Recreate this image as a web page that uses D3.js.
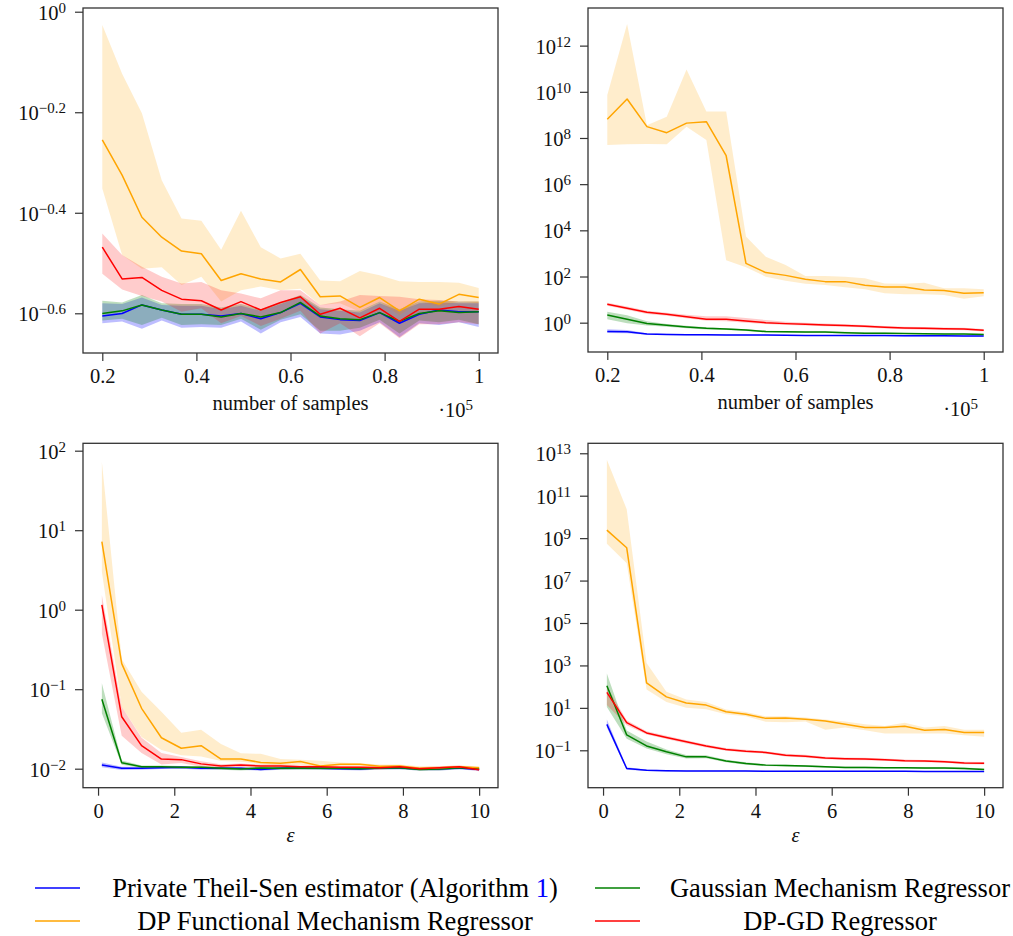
<!DOCTYPE html>
<html><head><meta charset="utf-8">
<script src="https://cdn.jsdelivr.net/npm/d3@7"></script>
<style>
body{margin:0;background:#fff}svg{display:block}
text{font-family:"Liberation Serif","Times New Roman",Times,"DejaVu Serif",serif;}
</style>
</head><body>
<svg id="c" width="1013" height="936"></svg>
<script>
// ---------- data ----------
const samples = [20000,24211,28421,32632,36842,41053,45263,49474,53684,57895,62105,66316,70526,74737,78947,83158,87368,91579,95789,100000];
const epsilons = [0.1,0.621,1.142,1.663,2.184,2.705,3.226,3.747,4.268,4.789,5.311,5.832,6.353,6.874,7.395,7.916,8.437,8.958,9.479,10.0];

const seriesNames = ["Private Theil-Sen estimator (Algorithm 1)","Gaussian Mechanism Regressor","DP Functional Mechanism Regressor","DP-GD Regressor"];
const seriesColors = ["#0000ff","#008000","#ffa500","#ff0000"];
const bandOpacity = [0.26,0.26,0.2,0.2];

// panel 1 (top left)
const p1_theilsen    = [0.248,0.251,0.261,0.255,0.250,0.250,0.248,0.251,0.245,0.252,0.263,0.247,0.244,0.243,0.252,0.240,0.250,0.255,0.253,0.253];
const p1_theilsen_hi = [0.263,0.262,0.270,0.261,0.260,0.260,0.256,0.260,0.254,0.262,0.271,0.256,0.254,0.252,0.263,0.254,0.263,0.264,0.263,0.263];
const p1_theilsen_lo = [0.240,0.242,0.234,0.243,0.235,0.236,0.235,0.242,0.229,0.241,0.247,0.229,0.228,0.232,0.241,0.225,0.240,0.238,0.241,0.236];
const p1_gauss       = [0.251,0.254,0.261,0.255,0.250,0.250,0.247,0.251,0.247,0.252,0.264,0.248,0.245,0.244,0.252,0.242,0.251,0.254,0.252,0.253];
const p1_gauss_hi    = [0.266,0.264,0.273,0.263,0.262,0.262,0.258,0.262,0.256,0.264,0.273,0.258,0.256,0.254,0.265,0.256,0.265,0.266,0.265,0.265];
const p1_gauss_lo    = [0.243,0.245,0.238,0.246,0.238,0.239,0.238,0.245,0.233,0.244,0.250,0.232,0.232,0.235,0.244,0.229,0.243,0.241,0.244,0.239];
const p1_func        = [0.556,0.473,0.390,0.356,0.334,0.330,0.292,0.301,0.294,0.290,0.307,0.271,0.272,0.258,0.270,0.254,0.268,0.262,0.274,0.270];
const p1_func_hi     = [0.941,0.753,0.628,0.462,0.388,0.384,0.336,0.402,0.340,0.323,0.330,0.292,0.291,0.305,0.299,0.291,0.290,0.290,0.289,0.282];
const p1_func_lo     = [0.445,0.328,0.308,0.310,0.286,0.297,0.265,0.279,0.284,0.279,0.281,0.261,0.263,0.253,0.265,0.249,0.265,0.259,0.265,0.263];
const p1_dpgd        = [0.340,0.294,0.296,0.279,0.268,0.266,0.255,0.265,0.255,0.264,0.271,0.250,0.257,0.246,0.257,0.242,0.256,0.256,0.259,0.256];
const p1_dpgd_hi     = [0.362,0.328,0.311,0.297,0.288,0.290,0.279,0.275,0.269,0.279,0.279,0.261,0.265,0.273,0.272,0.271,0.268,0.267,0.265,0.265];
const p1_dpgd_lo     = [0.301,0.280,0.272,0.265,0.253,0.257,0.240,0.248,0.237,0.245,0.254,0.229,0.240,0.226,0.240,0.224,0.239,0.239,0.241,0.239];

// panel 2 (top right)
const p2_theilsen    = [0.42,0.40,0.32,0.31,0.30,0.30,0.295,0.29,0.29,0.285,0.28,0.28,0.28,0.275,0.275,0.27,0.27,0.27,0.265,0.265];
const p2_theilsen_hi = [0.52,0.48,0.35,0.33,0.32,0.32,0.31,0.305,0.30,0.30,0.295,0.295,0.29,0.29,0.29,0.285,0.285,0.285,0.28,0.28];
const p2_theilsen_lo = [0.36,0.35,0.30,0.29,0.285,0.28,0.28,0.275,0.275,0.27,0.265,0.265,0.265,0.26,0.26,0.255,0.255,0.255,0.25,0.25];
const p2_gauss       = [2.15,1.40,0.93,0.77,0.65,0.57,0.53,0.48,0.41,0.40,0.39,0.39,0.37,0.35,0.35,0.34,0.33,0.32,0.32,0.31];
const p2_gauss_hi    = [3.0,2.1,1.15,0.88,0.73,0.63,0.58,0.52,0.45,0.44,0.42,0.42,0.40,0.38,0.38,0.36,0.35,0.34,0.34,0.33];
const p2_gauss_lo    = [1.40,0.95,0.76,0.66,0.57,0.51,0.48,0.44,0.38,0.37,0.36,0.36,0.34,0.33,0.33,0.32,0.31,0.30,0.30,0.29];
const p2_func        = [6.5e8,4.9e9,3.1e8,1.7e8,4.4e8,5.1e8,1.7e7,372,148,112,76,60,60,42,35,35,26,25,19,20];
const p2_func_hi     = [7.2e9,8.7e12,3.6e8,8.3e8,9.3e10,1.4e9,1.4e9,5400,720,316,105,105,98,83,50,48,54,31,31,28];
const p2_func_lo     = [5.0e7,5.4e7,5.5e7,5.4e7,3.1e8,8.1e7,510,250,98,66,48,43,34,28,19,17,17,16,11,14];
const p2_dpgd        = [6.3,4.2,2.8,2.3,1.82,1.40,1.40,1.19,1.0,0.91,0.86,0.80,0.75,0.70,0.63,0.59,0.57,0.55,0.53,0.47];
const p2_dpgd_hi     = [7.3,5.0,3.3,2.7,2.2,1.9,1.9,1.6,1.3,1.1,1.0,0.92,0.86,0.80,0.72,0.67,0.65,0.62,0.60,0.53];
const p2_dpgd_lo     = [5.4,3.6,2.4,2.0,1.55,1.2,1.15,1.0,0.87,0.80,0.75,0.70,0.66,0.62,0.56,0.52,0.50,0.48,0.47,0.42];

// panel 3 (bottom left)
const p3_theilsen    = [0.0111,0.0101,0.0101,0.0103,0.0104,0.0101,0.0101,0.0101,0.0098,0.0101,0.0102,0.0101,0.0100,0.0099,0.0102,0.0102,0.0099,0.0099,0.0102,0.0098];
const p3_theilsen_hi = [0.0120,0.0106,0.0105,0.0107,0.0108,0.0105,0.0105,0.0105,0.0102,0.0105,0.0106,0.0105,0.0104,0.0103,0.0106,0.0106,0.0103,0.0103,0.0106,0.0102];
const p3_theilsen_lo = [0.0104,0.0096,0.0097,0.0099,0.0100,0.0097,0.0097,0.0097,0.0094,0.0097,0.0098,0.0097,0.0096,0.0095,0.0098,0.0098,0.0095,0.0095,0.0098,0.0094];
const p3_gauss       = [0.0746,0.0119,0.0106,0.0106,0.0104,0.0104,0.0101,0.0099,0.0102,0.0101,0.0102,0.0101,0.0101,0.0100,0.0102,0.0103,0.0098,0.0099,0.0103,0.0100];
const p3_gauss_hi    = [0.119,0.0127,0.0110,0.0110,0.0108,0.0108,0.0105,0.0103,0.0106,0.0105,0.0106,0.0105,0.0105,0.0104,0.0106,0.0107,0.0102,0.0103,0.0107,0.0104];
const p3_gauss_lo    = [0.050,0.0112,0.0102,0.0102,0.0100,0.0100,0.0097,0.0095,0.0098,0.0097,0.0098,0.0097,0.0097,0.0096,0.0098,0.0099,0.0094,0.0095,0.0099,0.0096];
const p3_func        = [7.2,0.21,0.0575,0.0245,0.0181,0.0195,0.0132,0.0132,0.0120,0.0117,0.0123,0.0108,0.0114,0.0114,0.0107,0.0108,0.0101,0.0103,0.0106,0.0103];
const p3_func_hi     = [72.8,0.24,0.093,0.052,0.0284,0.031,0.0205,0.0156,0.0154,0.0132,0.0130,0.0126,0.0120,0.0117,0.0113,0.0113,0.0107,0.0107,0.0110,0.0107];
const p3_func_lo     = [3.0,0.060,0.025,0.0172,0.0148,0.0142,0.0125,0.0122,0.0114,0.0110,0.0112,0.0103,0.0106,0.0108,0.0102,0.0103,0.0097,0.0099,0.0101,0.0099];
const p3_dpgd        = [1.15,0.045,0.0195,0.0132,0.0130,0.0115,0.0108,0.0111,0.0108,0.0108,0.0106,0.0106,0.0104,0.0104,0.0103,0.0106,0.0100,0.0103,0.0106,0.0097];
const p3_dpgd_hi     = [1.53,0.060,0.0245,0.0158,0.0140,0.0124,0.0114,0.0116,0.0113,0.0113,0.0110,0.0110,0.0108,0.0108,0.0107,0.0110,0.0104,0.0107,0.0110,0.0101];
const p3_dpgd_lo     = [0.50,0.026,0.0158,0.0113,0.0118,0.0106,0.0102,0.0105,0.0103,0.0103,0.0101,0.0101,0.0099,0.0099,0.0098,0.0101,0.0096,0.0099,0.0101,0.0093];

// panel 4 (bottom right)
const p4_theilsen    = [1.66,0.0138,0.0115,0.0108,0.0106,0.0106,0.0105,0.0105,0.0104,0.0104,0.0104,0.0103,0.0103,0.0102,0.0102,0.0102,0.0101,0.0101,0.0100,0.0100];
const p4_theilsen_hi = [2.8,0.0160,0.0125,0.0115,0.0112,0.0112,0.0111,0.0111,0.0110,0.0110,0.0110,0.0109,0.0109,0.0108,0.0108,0.0108,0.0107,0.0107,0.0106,0.0106];
const p4_theilsen_lo = [1.19,0.0120,0.0106,0.0101,0.0100,0.0100,0.0099,0.0099,0.0098,0.0098,0.0098,0.0097,0.0097,0.0096,0.0096,0.0096,0.0095,0.0095,0.0094,0.0094];
const p4_gauss       = [110,0.53,0.16,0.085,0.049,0.049,0.031,0.024,0.020,0.019,0.018,0.0166,0.0156,0.0156,0.015,0.015,0.0145,0.0145,0.014,0.0125];
const p4_gauss_hi    = [420,0.85,0.26,0.11,0.060,0.058,0.036,0.027,0.022,0.021,0.020,0.0182,0.0171,0.0171,0.0165,0.0165,0.0159,0.0159,0.0154,0.0138];
const p4_gauss_lo    = [11,0.35,0.12,0.066,0.041,0.042,0.027,0.021,0.018,0.017,0.0163,0.0151,0.0142,0.0142,0.0137,0.0137,0.0132,0.0132,0.0127,0.0114];
const p4_func        = [2.4e9,3.5e8,150,33,17,13.5,6.5,5.0,3.2,3.3,2.9,2.4,1.7,1.19,1.19,1.37,0.89,0.95,0.69,0.69];
const p4_func_hi     = [4.9e12,2.3e10,1300,57,25,19,8.3,6.4,4.0,4.0,3.5,2.8,2.3,1.7,1.4,2.0,1.19,1.4,0.93,0.93];
const p4_func_lo     = [5.4e8,6.5e7,74,19,10,8.5,5.0,4.0,2.2,2.1,2.3,0.93,1.19,0.89,0.62,0.62,0.62,0.62,0.51,0.43];
const p4_dpgd        = [54,2.0,0.66,0.40,0.25,0.16,0.11,0.091,0.079,0.059,0.053,0.043,0.040,0.039,0.036,0.032,0.031,0.029,0.0254,0.0245];
const p4_dpgd_hi     = [100,2.6,0.80,0.48,0.30,0.19,0.13,0.105,0.091,0.068,0.061,0.049,0.046,0.045,0.041,0.037,0.035,0.033,0.029,0.028];
const p4_dpgd_lo     = [13.5,1.5,0.55,0.34,0.21,0.135,0.095,0.079,0.069,0.051,0.046,0.038,0.035,0.034,0.032,0.028,0.027,0.026,0.0222,0.0215];

// tick labels
const samplesTicks = [0.2,0.4,0.6,0.8,1];
const samplesTickLabels = ["0.2","0.4","0.6","0.8","1"];
const epsTicks = [0,2,4,6,8,10];
const epsTickLabels = ["0","2","4","6","8","10"];
const p1_yExps = [0,-0.2,-0.4,-0.6];
const p2_yExps = [0,2,4,6,8,10,12];
const p3_yExps = [-2,-1,0,1,2];
const p4_yExps = [-1,1,3,5,7,9,11,13];

// ---------- layout ----------
const svg = d3.select("#c");
const frameColor = "#333";

const panels = [
  {box:[83,8,498,353], x:samples.map(v=>v/1e5), xdom:[0.159,1.041], ylog:[-0.679,0.0074],
   xticks:samplesTicks, xlabels:samplesTickLabels, yexps:p1_yExps, xtitle:"number of samples", scale:true, titleDy:57,
   s:[[p1_theilsen,p1_theilsen_lo,p1_theilsen_hi],[p1_gauss,p1_gauss_lo,p1_gauss_hi],[p1_func,p1_func_lo,p1_func_hi],[p1_dpgd,p1_dpgd_lo,p1_dpgd_hi]]},
  {box:[588,8,1003,352], x:samples.map(v=>v/1e5), xdom:[0.159,1.041], ylog:[-1.27,13.63],
   xticks:samplesTicks, xlabels:samplesTickLabels, yexps:p2_yExps, xtitle:"number of samples", scale:true, titleDy:57,
   s:[[p2_theilsen,p2_theilsen_lo,p2_theilsen_hi],[p2_gauss,p2_gauss_lo,p2_gauss_hi],[p2_func,p2_func_lo,p2_func_hi],[p2_dpgd,p2_dpgd_lo,p2_dpgd_hi]]},
  {box:[83,443.3,498,787.7], x:epsilons, xdom:[-0.395,10.495], ylog:[-2.239,2.093],
   xticks:epsTicks, xlabels:epsTickLabels, yexps:p3_yExps, xtitle:"ε", scale:false, titleDy:54,
   s:[[p3_theilsen,p3_theilsen_lo,p3_theilsen_hi],[p3_gauss,p3_gauss_lo,p3_gauss_hi],[p3_func,p3_func_lo,p3_func_hi],[p3_dpgd,p3_dpgd_lo,p3_dpgd_hi]]},
  {box:[588,443.3,1003,787.7], x:epsilons, xdom:[-0.395,10.495], ylog:[-2.763,13.47],
   xticks:epsTicks, xlabels:epsTickLabels, yexps:p4_yExps, xtitle:"ε", scale:false, titleDy:54,
   s:[[p4_theilsen,p4_theilsen_lo,p4_theilsen_hi],[p4_gauss,p4_gauss_lo,p4_gauss_hi],[p4_func,p4_func_lo,p4_func_hi],[p4_dpgd,p4_dpgd_lo,p4_dpgd_hi]]}
];

function expLabel(e){ return String(e).replace("-","\u2212"); }

panels.forEach((p,pi)=>{
  const [l,t,r,b] = p.box;
  const xs = d3.scaleLinear().domain(p.xdom).range([l,r]);
  const ys = d3.scaleLog().domain([Math.pow(10,p.ylog[0]),Math.pow(10,p.ylog[1])]).range([b,t]);
  const g = svg.append("g");
  const cid = "clip"+pi;
  svg.append("clipPath").attr("id",cid).append("rect").attr("x",l).attr("y",t).attr("width",r-l).attr("height",b-t);
  const plot = g.append("g").attr("clip-path",`url(#${cid})`);

  p.s.forEach((sd,si)=>{
    const pts = p.x.map((xv,i)=>({x:xv,lo:sd[1][i],hi:sd[2][i]}));
    const area = d3.area().x(d=>xs(d.x)).y0(d=>ys(d.lo)).y1(d=>ys(d.hi));
    plot.append("path").attr("d",area(pts)).attr("fill",seriesColors[si]).attr("fill-opacity",bandOpacity[si]).attr("stroke","none");
  });
  p.s.forEach((sd,si)=>{
    const pts = p.x.map((xv,i)=>({x:xv,y:sd[0][i]}));
    const line = d3.line().x(d=>xs(d.x)).y(d=>ys(d.y));
    plot.append("path").attr("d",line(pts)).attr("fill","none").attr("stroke",seriesColors[si]).attr("stroke-width",1.5).attr("stroke-linejoin","round");
  });

  g.append("rect").attr("x",l).attr("y",t).attr("width",r-l).attr("height",b-t)
    .attr("fill","none").attr("stroke",frameColor).attr("stroke-width",1.3);

  const xa = d3.axisBottom(xs).tickValues(p.xticks).tickFormat((d,i)=>p.xlabels[i]).tickSize(8).tickPadding(3);
  const xg = g.append("g").attr("transform",`translate(0,${b})`).call(xa);
  xg.attr("font-family",null).attr("font-size",null);
  xg.select(".domain").remove();
  xg.selectAll(".tick line").attr("stroke",frameColor).attr("stroke-width",1.2);
  xg.selectAll(".tick text").style("font-size","20.5px").attr("fill","#111").attr("dy",null).attr("y",30);

  const yvals = p.yexps.map(e=>Math.pow(10,e));
  const ya = d3.axisLeft(ys).tickValues(yvals).tickFormat("").tickSize(8);
  const yg = g.append("g").attr("transform",`translate(${l},0)`).call(ya);
  yg.select(".domain").remove();
  yg.selectAll(".tick line").attr("stroke",frameColor).attr("stroke-width",1.2);
  p.yexps.forEach(e=>{
    const yy = ys(Math.pow(10,e));
    const tx = g.append("text").attr("x",l-17).attr("y",yy+8).attr("text-anchor","end")
      .style("font-size","20.5px").attr("fill","#111");
    tx.append("tspan").text("10");
    tx.append("tspan").attr("dy",-7).style("font-size","15px").text(expLabel(e));
  });

  g.append("text").attr("x",(l+r)/2).attr("y",b+p.titleDy).attr("text-anchor","middle")
    .style("font-size","20.5px").attr("fill","#111")
    .style("font-style",p.xtitle==="ε"?"italic":"normal").text(p.xtitle);

  if(p.scale){
    const st = g.append("text").attr("x",r-25).attr("y",b+64).attr("text-anchor","end")
      .style("font-size","20.5px").attr("fill","#111");
    st.append("tspan").text("\u00B710");
    st.append("tspan").attr("dy",-7).style("font-size","15px").text("5");
  }
});

// ---------- legend ----------
const legendItems = [
  {i:0, col:0, row:0},
  {i:1, col:1, row:0},
  {i:2, col:0, row:1},
  {i:3, col:1, row:1}
];
const colLine = [35,595], colCenter = [335,840], rowY = [888,921];
const lg = svg.append("g");
legendItems.forEach(it=>{
  const y = rowY[it.row];
  lg.append("line").attr("x1",colLine[it.col]).attr("x2",colLine[it.col]+45).attr("y1",y).attr("y2",y)
    .attr("stroke",seriesColors[it.i]).attr("stroke-width",1.6);
  const tx = lg.append("text").attr("x",colCenter[it.col]).attr("y",y+8.5).attr("text-anchor","middle")
    .style("font-size","26.5px").attr("fill","#000");
  if(it.i===0){
    tx.append("tspan").text("Private Theil-Sen estimator (Algorithm ");
    tx.append("tspan").attr("fill","#0000ff").text("1");
    tx.append("tspan").text(")");
  } else tx.text(seriesNames[it.i]);
});
</script>
</body></html>
